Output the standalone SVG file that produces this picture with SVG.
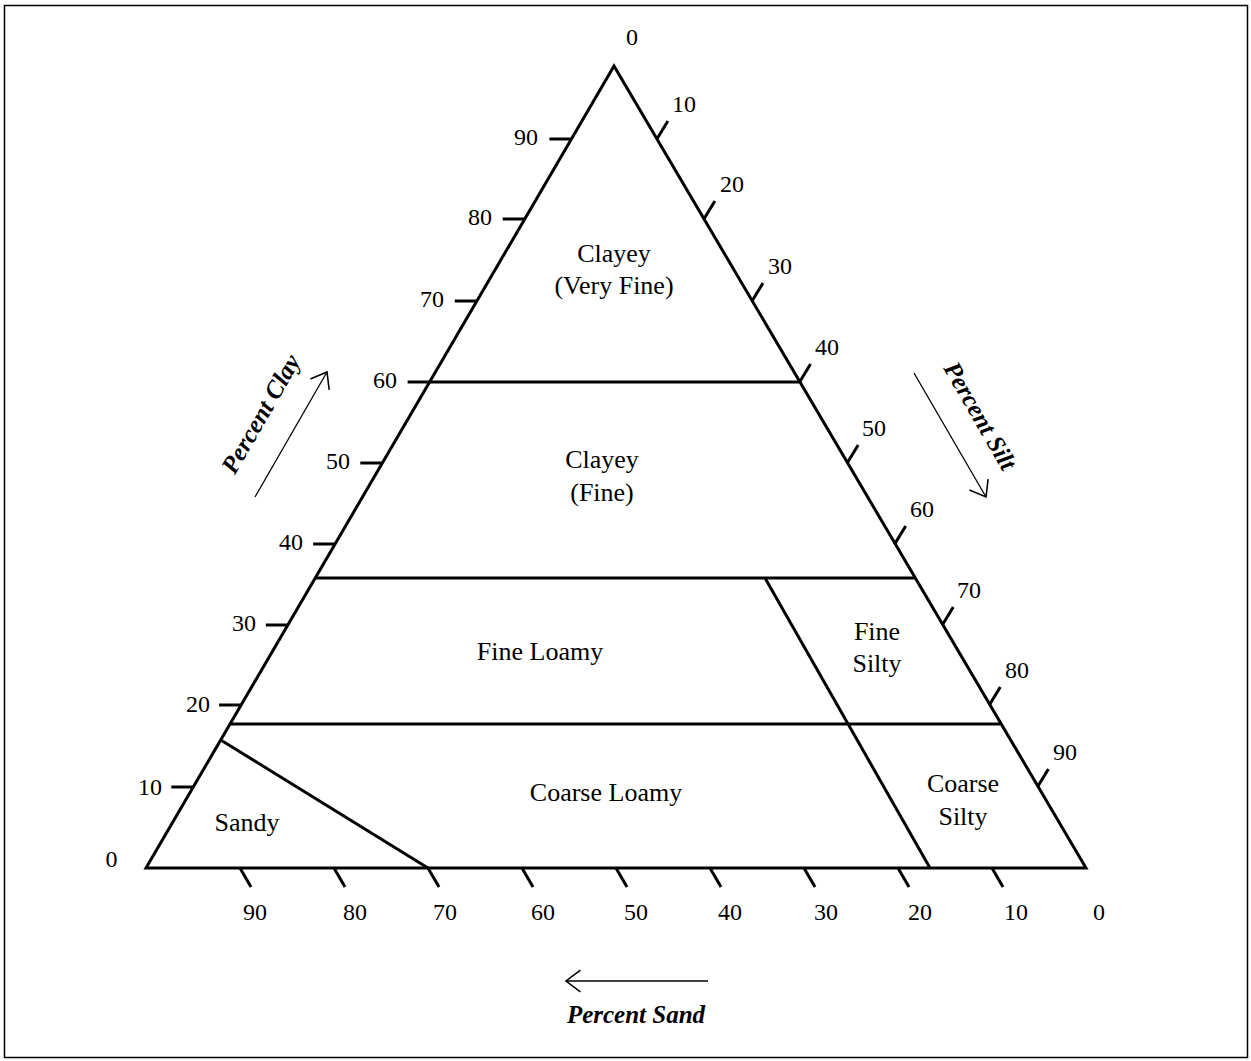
<svg xmlns="http://www.w3.org/2000/svg" width="1251" height="1061" viewBox="0 0 1251 1061">
<style>
.ln{stroke:#000;stroke-width:3;fill:none}
.tk{stroke:#000;stroke-width:3;fill:none}
.ar{stroke:#000;stroke-width:1.3;fill:none}
.num{font-family:"Liberation Serif","Times New Roman",serif;font-size:24px;fill:#000}
.lbl{font-family:"Liberation Serif","Times New Roman",serif;font-size:26px;fill:#000;text-anchor:middle}
.ax{font-family:"Liberation Serif","Times New Roman",serif;font-size:25px;font-weight:bold;font-style:italic;fill:#000;text-anchor:middle}
</style>
<defs>
<marker id="ah" markerUnits="userSpaceOnUse" markerWidth="20" markerHeight="24" viewBox="-14 -10 16 20" refX="0" refY="0" orient="auto">
<path d="M-12,-9 L0,0 L-12,9" fill="none" stroke="#000" stroke-width="1.3"/>
</marker>
</defs>
<rect x="4.5" y="5.5" width="1243" height="1052" fill="#fff" stroke="#000" stroke-width="1.5"/>
<g id="triangle">
<polygon class="ln" points="614,66 146,868 1086,868" stroke-linejoin="miter"/>
</g>
<g id="connectors">
<line class="ln" x1="429.6" y1="382" x2="799.6" y2="382"/>
<line class="ln" x1="315" y1="578" x2="915" y2="578"/>
<line class="ln" x1="229" y1="724" x2="1000.5" y2="724"/>
<line class="ln" x1="765" y1="578" x2="930" y2="868"/>
<line class="ln" x1="220.7" y1="740" x2="428" y2="868"/>
</g>
<g id="clay-axis">
<line class="tk" x1="549.4" y1="139" x2="571.4" y2="139"/>
<line class="tk" x1="502.7" y1="219" x2="524.7" y2="219"/>
<line class="tk" x1="454.8" y1="301" x2="476.8" y2="301"/>
<line class="tk" x1="407.6" y1="382" x2="429.6" y2="382"/>
<line class="tk" x1="360.3" y1="463" x2="382.3" y2="463"/>
<line class="tk" x1="313.1" y1="544" x2="335.1" y2="544"/>
<line class="tk" x1="265.8" y1="625" x2="287.8" y2="625"/>
<line class="tk" x1="219.1" y1="705" x2="241.1" y2="705"/>
<line class="tk" x1="171.3" y1="787" x2="193.3" y2="787"/>
<g class="num" text-anchor="end">
<text x="538" y="145">90</text>
<text x="492" y="225">80</text>
<text x="444" y="307">70</text>
<text x="397" y="388">60</text>
<text x="350" y="469">50</text>
<text x="303" y="550">40</text>
<text x="256" y="631">30</text>
<text x="210" y="712">20</text>
<text x="162" y="795">10</text>
</g>
</g>
<g id="silt-axis">
<line class="tk" x1="656.9" y1="139" x2="667.9" y2="121"/>
<line class="tk" x1="703.9" y1="219" x2="714.9" y2="201"/>
<line class="tk" x1="752" y1="301" x2="763" y2="283"/>
<line class="tk" x1="799.6" y1="382" x2="810.6" y2="364"/>
<line class="tk" x1="847.2" y1="463" x2="858.2" y2="445"/>
<line class="tk" x1="894.7" y1="544" x2="905.7" y2="526"/>
<line class="tk" x1="942.3" y1="625" x2="953.3" y2="607"/>
<line class="tk" x1="989.3" y1="705" x2="1000.3" y2="687"/>
<line class="tk" x1="1037.4" y1="787" x2="1048.4" y2="769"/>
<g class="num">
<text x="672" y="112">10</text>
<text x="720" y="192">20</text>
<text x="768" y="274">30</text>
<text x="815" y="355">40</text>
<text x="862" y="436">50</text>
<text x="910" y="517">60</text>
<text x="957" y="598">70</text>
<text x="1005" y="678">80</text>
<text x="1053" y="760">90</text>
</g>
</g>
<g id="sand-axis">
<line class="tk" x1="240" y1="868" x2="251" y2="887"/>
<line class="tk" x1="334" y1="868" x2="345" y2="887"/>
<line class="tk" x1="428" y1="868" x2="439" y2="887"/>
<line class="tk" x1="522" y1="868" x2="533" y2="887"/>
<line class="tk" x1="616" y1="868" x2="627" y2="887"/>
<line class="tk" x1="710" y1="868" x2="721" y2="887"/>
<line class="tk" x1="804" y1="868" x2="815" y2="887"/>
<line class="tk" x1="898" y1="868" x2="909" y2="887"/>
<line class="tk" x1="992" y1="868" x2="1003" y2="887"/>
<g class="num" text-anchor="middle">
<text x="255" y="920">90</text>
<text x="355" y="920">80</text>
<text x="445" y="920">70</text>
<text x="543" y="920">60</text>
<text x="636" y="920">50</text>
<text x="730" y="920">40</text>
<text x="826" y="920">30</text>
<text x="920" y="920">20</text>
<text x="1016" y="920">10</text>
<text x="1099" y="920">0</text>
<text x="111.5" y="867">0</text>
<text x="632" y="45">0</text>
</g>
</g>
<g id="axis-titles">
<line class="ar" x1="255" y1="497" x2="327" y2="372" marker-end="url(#ah)"/>
<line class="ar" x1="914" y1="373" x2="986" y2="497" marker-end="url(#ah)"/>
<line class="ar" x1="708" y1="981" x2="566" y2="981" marker-end="url(#ah)"/>
<text class="ax" transform="translate(268,418) rotate(-60)">Percent Clay</text>
<text class="ax" transform="translate(973,420) rotate(60)">Percent Silt</text>
<text class="ax" x="636" y="1023">Percent Sand</text>
</g>
<g id="clayey-very-fine"><text class="lbl" x="614" y="262">Clayey</text><text class="lbl" x="614" y="294">(Very Fine)</text></g>
<g id="clayey-fine"><text class="lbl" x="602" y="468">Clayey</text><text class="lbl" x="602" y="501">(Fine)</text></g>
<g id="fine-loamy"><text class="lbl" x="540" y="660">Fine Loamy</text></g>
<g id="fine-silty"><text class="lbl" x="877" y="640">Fine</text><text class="lbl" x="877" y="672">Silty</text></g>
<g id="coarse-loamy"><text class="lbl" x="606" y="801">Coarse Loamy</text></g>
<g id="coarse-silty"><text class="lbl" x="963" y="792">Coarse</text><text class="lbl" x="963" y="825">Silty</text></g>
<g id="sandy"><text class="lbl" x="247" y="831">Sandy</text></g>
</svg>
